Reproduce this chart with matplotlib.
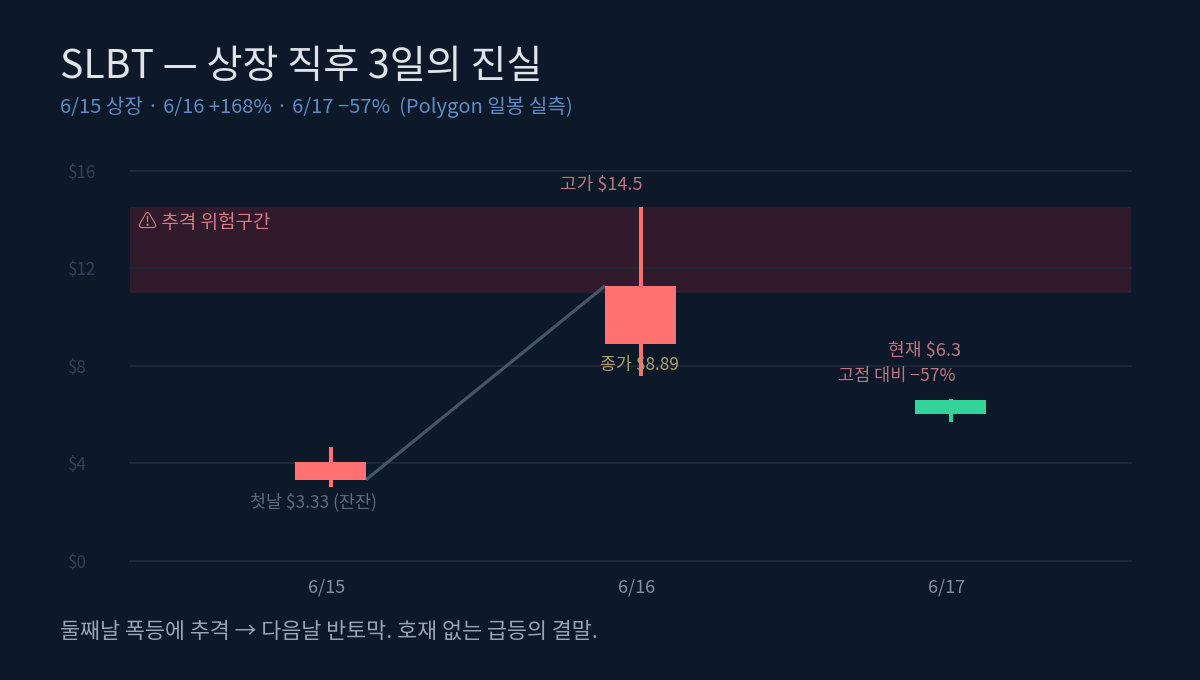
import matplotlib
matplotlib.use("Agg")
import matplotlib.pyplot as plt
from matplotlib.patches import Rectangle

plt.rcParams['font.family'] = ['Noto Sans CJK KR', 'DejaVu Sans']
plt.rcParams['font.weight'] = 'light'

# Daily price data
dates = ['6/15', '6/16', '6/17']
body_top = [4.06, 11.28, 6.60]
body_bottom = [3.33, 8.89, 6.03]
high = [4.68, 14.5, 6.65]
low = [3.04, 7.60, 5.70]
colors = ['#ff7070', '#ff7070', '#34d399']
y_ticks = [0, 4, 8, 12, 16]
zone_low, zone_high = 11.0, 14.5

BG = '#0d1829'
W, H = 1200, 680
fig = plt.figure(figsize=(W / 100, H / 100), dpi=100, facecolor=BG)
px = 0.72  # points per pixel at this dpi

# Axes spans x 130-1131 px; y value 0 sits at 561 px and 16 at 171 px
ax = fig.add_axes([130 / W, 1 - 561 / H, 1001 / W, 390.2 / H], facecolor=BG)
ax.set_xlim(-200.5 / 310, 800.5 / 310)
ax.set_ylim(0, 16)
for s in ax.spines.values():
    s.set_visible(False)
ax.patch.set_alpha(0)

bar_w = 71 / 310
ax.set_yticks(y_ticks)
ax.set_yticklabels([f'${v}' for v in y_ticks], color='#334155', fontsize=12.2, ha='left')
ax.tick_params(axis='y', length=0, pad=62 * px)
ax.set_xticks([])
ax.grid(False)
for v in y_ticks:
    ax.axhline(v, color='#1e2a3a', lw=1.5 * px * 1.2, zorder=2, clip_on=False)

# Spike danger zone
ax.add_patch(Rectangle((ax.get_xlim()[0], zone_low), ax.get_xlim()[1] - ax.get_xlim()[0],
                       zone_high - zone_low, fc='#f0283f', alpha=0.16, ec='none', zorder=1))

# Connector from the first day's lower body edge to the second day's upper body edge
ax.plot([0 + bar_w / 2, 1 - bar_w / 2], [body_bottom[0], body_top[1]],
        color='#475569', lw=3.2 * px, zorder=3, solid_capstyle='butt')

# Candles
for i in range(len(dates)):
    ax.vlines(i, low[i], high[i], color=colors[i], lw=4 * px, zorder=3)
    ax.bar(i, body_top[i] - body_bottom[i], bottom=body_bottom[i], width=bar_w,
           color=colors[i], linewidth=0, zorder=4)

def label(i, v, dx, dy, s, color, size=12.6, ha='center'):
    ax.annotate(s, xy=(i, v), xytext=(dx * px, dy * px), textcoords='offset points',
                ha=ha, va='center', color=color, fontsize=size, zorder=6,
                annotation_clip=False)

# Date labels under the axis
for i, d in enumerate(dates):
    label(i, 0, -4, -27, d, '#8290a3', size=13)

PINK = '#bd7480'
label(1, high[1], -39, 22.5, '고가 $14.5', PINK, size=13)
label(1, body_bottom[1], -1, -21, '종가 $8.89', '#a89f6c', size=12.5)
label(0, body_bottom[0], -17, -22, '첫날 $3.33 (잔잔)', '#5c6b7d', size=12.5)
label(2, 6.3, -26, 56, '현재 $6.3', PINK, size=13.1)
label(2, 6.3, -54, 31, '고점 대비 −57%', PINK)
ax.annotate('⚠ 추격 위험구간', xy=(ax.get_xlim()[0], zone_high), xytext=(8 * px, -15 * px),
            textcoords='offset points', ha='left', va='center', color='#d27c85',
            fontsize=13.7, zorder=6, annotation_clip=False)

# Headline block
fig.text(60 / W, 1 - 67 / H, 'SLBT — 상장 직후 3일의 진실', color='#dfe4ea', fontsize=28.2,
         ha='left', va='center')
fig.text(60 / W, 1 - 107 / H, '6/15 상장 · 6/16 +168% · 6/17 −57%  (Polygon 일봉 실측)',
         color='#5f8cc4', fontsize=14.5, ha='left', va='center')
fig.text(60 / W, 1 - 632 / H, '둘째날 폭등에 추격 → 다음날 반토막. 호재 없는 급등의 결말.',
         color='#98a3b3', fontsize=15.7, ha='left', va='center')

fig.savefig('out.png', dpi=100, facecolor=BG)
